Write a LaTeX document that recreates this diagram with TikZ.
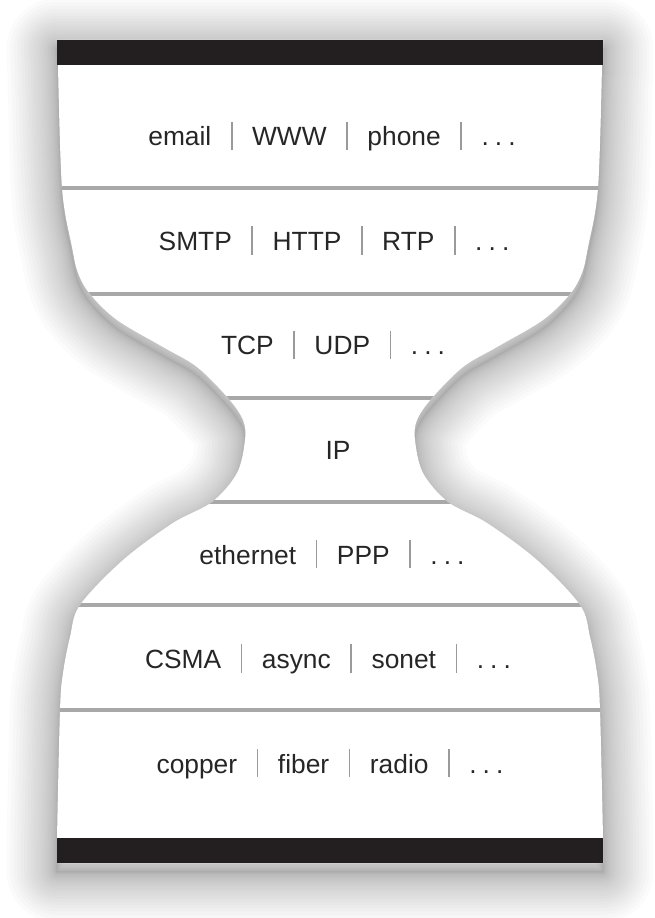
\documentclass[tikz,border=0pt]{standalone}
\usepackage{fontspec}
\setmainfont{Liberation Sans}

\definecolor{barblack}{HTML}{231F20}
\definecolor{rulegray}{HTML}{A8A8A8}
\definecolor{sepgray}{HTML}{9A9A9A}
\definecolor{txtblack}{HTML}{262626}

\newcommand{\layersep}{\hspace{0.74em}\textcolor{sepgray}{\rule[-2.3pt]{1pt}{16pt}}\hspace{0.74em}}
\newcommand{\layerdots}{.\hspace{0.23em}.\hspace{0.23em}.}
\newcommand{\glassoutline}{(57,40) -- (603,40) -- (603,65)
  -- plot[smooth,tension=0.55] coordinates {(602,65) (598,188) (588,247) (582,273) (570,294) (543,320) (497,347) (463,367) (432,398) (417,420) (415,440) (423,473) (448,502) (487,523) (537,560) (580,605) (590,637) (597,673) (600,710) (603,838)}
  -- (603,863) -- (57,863) -- (57,838)
  -- plot[smooth,tension=0.55] coordinates {(57,838) (60,710) (63,673) (70,637) (80,605) (123,560) (173,523) (212,502) (237,473) (245,440) (243,420) (228,398) (197,367) (163,347) (117,320) (90,294) (78,273) (72,247) (62,188) (58,65)}
  -- cycle}

\begin{document}
\begin{tikzpicture}[x=0.02cm,y=-0.02cm,
    shadow stroke/.style={draw=black,opacity=0.014,line join=round},
    layer rule/.style={draw=rulegray,line width=1.9pt},
    end bar/.style={fill=barblack},
    layer/.style={font=\fontsize{15}{18}\selectfont,text=txtblack,anchor=base,inner sep=0pt}]
\useasboundingbox (0,0) rectangle (654,918);

% soft shadow round the glass
\begin{scope}[yshift=-5pt]
  \foreach \k in {1,...,26}
    \draw[shadow stroke,line width=\k*\k*0.085pt] \glassoutline;
\end{scope}
\fill[white] \glassoutline;

% rules between the layers
\begin{scope}
  \clip \glassoutline;
  \foreach \y in {188,294,398,502,605,710}
    \draw[layer rule] (0,\y) -- (660,\y);
\end{scope}

% top and bottom bars
\fill[end bar] (57,40) rectangle (603,65);
\fill[end bar] (57,838) rectangle (603,863);

% layers
\node[layer] (app) at (332,146) {email\layersep WWW\layersep phone\layersep\layerdots};
\node[layer] (proto) at (334,250.5) {SMTP\layersep HTTP\layersep RTP\layersep\layerdots};
\node[layer] (transport) at (333,355) {TCP\layersep UDP\layersep\layerdots};
\node[layer] (ip) at (338,459.5) {IP};
\node[layer] (link) at (332,564) {ethernet\layersep PPP\layersep\layerdots};
\node[layer] (mac) at (328,668.5) {CSMA\layersep async\layersep sonet\layersep\layerdots};
\node[layer] (phys) at (330,773) {copper\layersep fiber\layersep radio\layersep\layerdots};
\end{tikzpicture}
\end{document}
